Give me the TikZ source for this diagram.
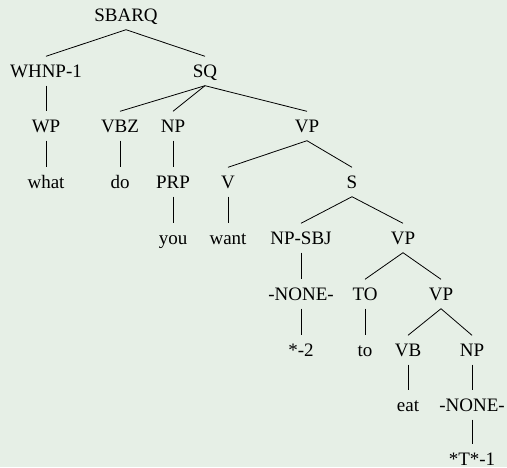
\documentclass[tikz,border=0pt]{standalone}
\usepackage{fontspec}
\setmainfont{Liberation Serif}
\newfontfamily\treefont{Liberation Serif}
\definecolor{bg}{RGB}{230,239,230}
\begin{document}
\begin{tikzpicture}[x=1pt,y=-1pt,
  lbl/.style={inner xsep=1pt,inner ysep=8.2pt,text height=12.6pt,text depth=0pt,
    font=\treefont\fontsize{19}{21}\selectfont},
  edge/.style={line width=0.8pt,black}]
\fill[bg] (0,0) rectangle (507,467);
\useasboundingbox (0,0) rectangle (507,467);
\node[lbl] (sbarq) at (126,15) {SBARQ};
\node[lbl] (whnp) at (46,71) {WHNP-1};
\node[lbl] (sq) at (205,71) {SQ};
\node[lbl] (wp) at (46,126) {WP};
\node[lbl] (vbz) at (120,126) {VBZ};
\node[lbl] (npa) at (173,126) {NP};
\node[lbl] (vpa) at (307,126) {VP};
\node[lbl] (what) at (46,182) {what};
\node[lbl] (do) at (120,182) {do};
\node[lbl] (prp) at (173,182) {PRP};
\node[lbl] (v) at (228,182) {V};
\node[lbl] (s) at (352,182) {S};
\node[lbl] (you) at (173,238) {you};
\node[lbl] (want) at (228,238) {want};
\node[lbl] (npsbj) at (301,238) {NP-SBJ};
\node[lbl] (vpb) at (403,238) {VP};
\node[lbl] (nonea) at (301,294) {-NONE-};
\node[lbl] (toa) at (365,294) {TO};
\node[lbl] (vpc) at (441,294) {VP};
\node[lbl] (stara) at (301,350) {*-2};
\node[lbl] (tob) at (365,350) {to};
\node[lbl] (vb) at (408,350) {VB};
\node[lbl] (npb) at (472,350) {NP};
\node[lbl] (eat) at (408,405) {eat};
\node[lbl] (noneb) at (472,405) {-NONE-};
\node[lbl] (tstar) at (472,459) {*T*-1};
\foreach \p/\c in {sbarq/whnp,sbarq/sq,whnp/wp,sq/vbz,sq/npa,sq/vpa,wp/what,vbz/do,
  npa/prp,vpa/v,vpa/s,prp/you,v/want,s/npsbj,s/vpb,npsbj/nonea,vpb/toa,vpb/vpc,
  nonea/stara,toa/tob,vpc/vb,vpc/npb,vb/eat,npb/noneb,noneb/tstar}
  \draw[edge] (\p.south) -- (\c.north);
\end{tikzpicture}
\end{document}
